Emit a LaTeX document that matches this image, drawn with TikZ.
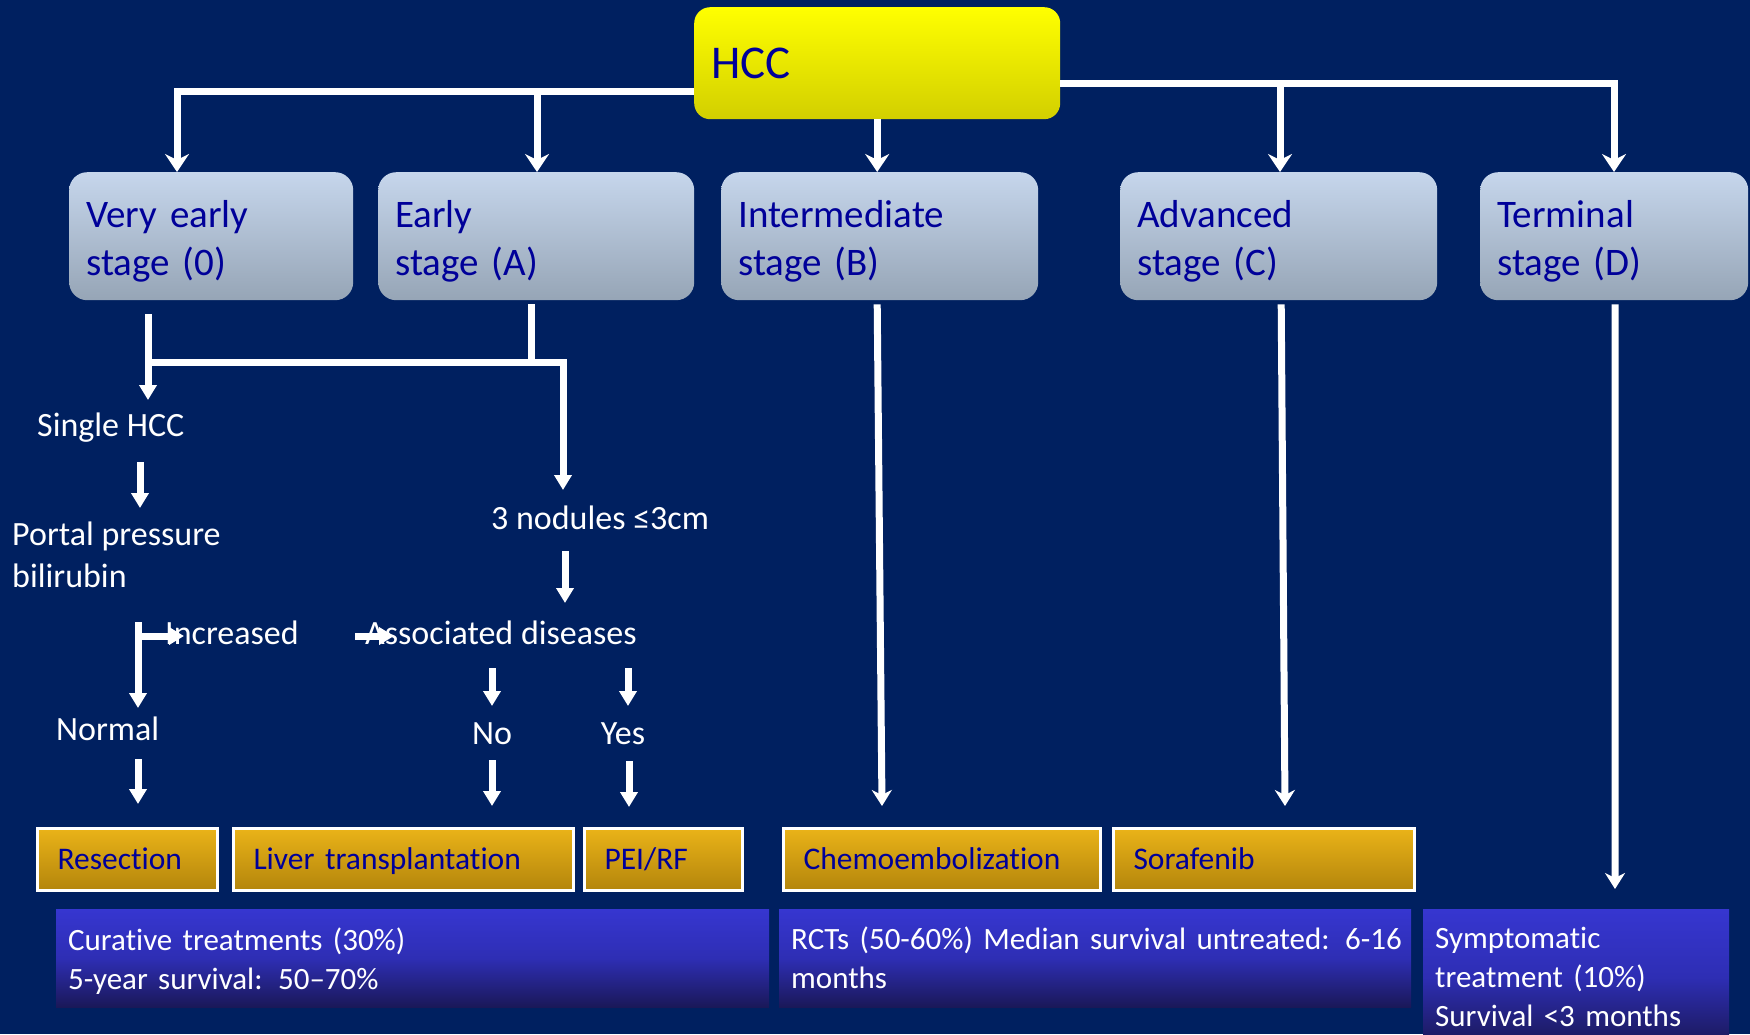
\documentclass[tikz,border=0pt]{standalone}
\usepackage{fontspec}
\setmainfont{Carlito}[Ligatures=NoCommon]
\usetikzlibrary{arrows.meta}
\definecolor{bgc}{HTML}{002060}
\definecolor{stTop}{HTML}{C6D6EC}
\definecolor{stBot}{HTML}{96A5B6}
\definecolor{stText}{HTML}{000099}
\definecolor{hccTop}{HTML}{FFFF00}
\definecolor{hccBot}{HTML}{D2CF00}
\definecolor{orTop}{HTML}{EAB318}
\definecolor{orBot}{HTML}{B3850C}
\definecolor{blTop}{HTML}{3636D0}
\definecolor{blMid}{HTML}{2E2EB4}
\definecolor{blBot}{HTML}{1A1858}
\newcommand\upstrut[1]{\rule{0pt}{#1}}
\tikzset{
  stagebox/.style={rounded corners=18pt, top color=stTop, bottom color=stBot, text=stText,
    font=\fontsize{39}{48}\selectfont, anchor=north west, minimum height=128pt,
    inner xsep=17pt, inner ysep=0pt, align=left},
  hccbox/.style={rounded corners=16pt, top color=hccTop, bottom color=hccBot, text=stText,
    font=\fontsize{47}{56}\selectfont, anchor=north west, minimum height=112pt,
    inner xsep=17pt, inner ysep=0pt, align=left, text width=332pt},
  treat/.style={draw=white, line width=3pt, top color=orTop, bottom color=orBot, text=stText,
    font=\fontsize{31.5}{38}\selectfont, anchor=north west, minimum height=62pt,
    inner xsep=20pt, inner ysep=0pt, align=left, text height=20pt, text depth=0pt},
  outcome/.style={top color=blTop, bottom color=blBot, middle color=blMid, text=white,
    font=\fontsize{31}{39}\selectfont, anchor=north west, minimum height=98pt,
    inner xsep=12pt, inner ysep=0pt, align=left},
  lbl/.style={text=white, font=\fontsize{34}{42}\selectfont, inner sep=0pt, anchor=base west, align=left},
  topconn/.style={white, line width=7pt, -{Stealth[length=18pt,width=24pt,inset=6pt]}},
  longconn/.style={white, line width=7pt, -{Stealth[length=16pt,width=20pt,inset=5pt]}},
  conn/.style={white, line width=7pt, -{Triangle[length=15pt,width=17pt]}},
  plain/.style={white, line width=7pt}
}
\begin{document}
\begin{tikzpicture}[x=1pt,y=-1pt]
\useasboundingbox (0,0) rectangle (1750,1034);
\fill[bgc] (0,0) rectangle (1750,1034);

% main nodes
\node[hccbox] (hcc) at (694,7) {HCC};
\node[stagebox, text width=250pt] (s0) at (69,172) {\upstrut{37pt}Very early\\stage (0)};
\node[stagebox, text width=282pt] (sA) at (378,172) {\upstrut{37pt}Early\\stage (A)};
\node[stagebox, text width=283pt] (sB) at (721,172) {\upstrut{37pt}Intermediate\\stage (B)};
\node[stagebox, text width=283pt] (sC) at (1120,172) {\upstrut{37pt}Advanced\\stage (C)};
\node[stagebox, text width=234pt] (sD) at (1480,172) {\upstrut{37pt}Terminal\\stage (D)};

% treatments
\node[treat, text width=140pt] (res) at (36,827) {Resection};
\node[treat, text width=300pt] (liver) at (232,827) {Liver transplantation};
\node[treat, text width=118pt] (pei) at (583,827) {PEI/RF};
\node[treat, text width=277pt] (chemo) at (782,827) {Chemoembolization};
\node[treat, text width=261pt] (sora) at (1112,827) {Sorafenib};

% outcomes
\node[outcome, text width=689pt] (cur) at (56,909) {\upstrut{29pt}Curative treatments (30\%)\\5-year survival: 50–70\%};
\node[outcome, text width=608pt] (rct) at (779,909) {\upstrut{22pt}\mbox{RCTs (50-60\%) Median survival untreated: 6-16}\\months};
\node[outcome, text width=282pt, minimum height=136pt] (sym) at (1423,909) {Symptomatic\\treatment (10\%)\\Survival <3 months};

% labels
\node[lbl] (single) at (37,436) {Single HCC};
\node[lbl] (portal) at (12,587) {Portal pressure\\bilirubin};
\node[lbl] (nod) at (491,529) {3 nodules ≤3cm};
\node[lbl] (assoc) at (365,644) {Associated diseases};
\node[lbl] (incr) at (165,644) {Increased};
\node[lbl] (normal) at (56,740) {Normal};
\node[lbl, anchor=base] (no) at (492,744) {No};
\node[lbl, anchor=base] (yes) at (623,744) {Yes};

% top connectors
\coordinate (jL) at (177,91);
\coordinate (jA) at (537,91);
\coordinate (jR) at (1614,83);
\coordinate (jC) at (1280,83);
\draw[topconn] (hcc.west |- jL) -- (jL) -- (jL |- s0.north);
\draw[topconn] (jA) -- (jA |- sA.north);
\draw[topconn] (hcc.south) -- (hcc.south |- sB.north);
\draw[topconn] (hcc.east |- jR) -- (jR) -- (jR |- sD.north);
\draw[topconn] (jC) -- (jC |- sC.north);

% lower connectors
\coordinate (s0out) at (148,314);
\coordinate (singleIn) at (148,400);
\coordinate (sAout) at (531,304);
\coordinate (sAjoin) at (531,362);
\coordinate (hL) at (148,362);
\coordinate (nodIn) at (563,490);
\draw[conn] (s0out) -- (singleIn);
\draw[plain] (sAout) -- (sAjoin);
\draw[conn] (hL) -| (nodIn);

\coordinate (singleOut) at (140,462);
\coordinate (portalIn) at (140,508);
\draw[conn] (singleOut) -- (portalIn);

\coordinate (portalOut) at (138,622);
\coordinate (normalIn) at (138,708);
\coordinate (brStart) at (138,636);
\coordinate (incrIn) at (184,636);
\draw[conn] (portalOut) -- (normalIn);
\draw[conn] (brStart) -- (incrIn);

\coordinate (normalOut) at (138,759);
\coordinate (resIn) at (138,804);
\draw[conn] (normalOut) -- (resIn);

\coordinate (nodOut) at (565,551);
\coordinate (assocIn) at (565,603);
\draw[conn] (nodOut) -- (assocIn);

\coordinate (incrOut) at (355,636);
\coordinate (assocW) at (394,636);
\draw[conn] (incrOut) -- (assocW);

\coordinate (assocNo) at (492,668);
\coordinate (noIn) at (492,706);
\coordinate (assocYes) at (628,668);
\coordinate (yesIn) at (628,706);
\draw[conn] (assocNo) -- (noIn);
\draw[conn] (assocYes) -- (yesIn);

\coordinate (noOut) at (492,760);
\coordinate (liverIn) at (492,806);
\coordinate (yesOut) at (629,761);
\coordinate (peiIn) at (629,807);
\draw[conn] (noOut) -- (liverIn);
\draw[conn] (yesOut) -- (peiIn);

\coordinate (chemoIn) at (882,806);
\coordinate (soraIn) at (1285,806);
\coordinate (symIn) at (1615,889);
\draw[longconn] ([xshift=-2.5pt,yshift=-4pt]sB.south) -- (chemoIn);
\draw[longconn] ([xshift=2.5pt,yshift=-4pt]sC.south) -- (soraIn);
\draw[longconn] ([xshift=1pt,yshift=-4pt]sD.south) -- (symIn);
\end{tikzpicture}
\end{document}
